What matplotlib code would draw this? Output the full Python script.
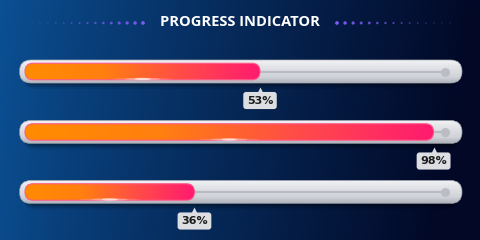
import numpy as np
import matplotlib.pyplot as plt
from matplotlib.patches import FancyBboxPatch, Ellipse
from matplotlib.colors import LinearSegmentedColormap

# donnees
valeurs = [53, 98, 36]
etiquettes = ['53%', '98%', '36%']
titre = 'PROGRESS INDICATOR'

W, H = 480, 240
px = 3.857          # pixels par point de pourcentage
x0 = 55.6           # pixel du 0%
lignes = [71.5, 132, 192]   # centre vertical de chaque barre (px)

fig = plt.figure(figsize=(4.8, 2.4), dpi=100)

# fond degrade
fond = fig.add_axes([0, 0, 1, 1])
fond.axis('off')
gx = np.linspace(0, 1, 300)
gy = np.linspace(0, 1, 150)
c0 = np.array([11, 80, 148]) / 255
c1 = np.array([2, 8, 38]) / 255
t = np.clip(gx[None, :] ** 0.9 + 0.08 * gy[:, None], 0, 1)
img = c0 * (1 - t[..., None]) + c1 * t[..., None]
fond.imshow(img, extent=(0, W, H, 0), aspect='auto')
fond.set_xlim(0, W)
fond.set_ylim(H, 0)

# titre et points decoratifs
fond.text(240, 22, titre, ha='center', va='center', fontsize=10.5,
          fontweight='bold', color='white', family='Open Sans')
n = 15
k = np.linspace(0, 1, n)
xs_g = np.linspace(32, 143, n)
xs_d = np.linspace(337, 450, n)
for xs, kk in ((xs_g, k), (xs_d, k[::-1])):
    fond.scatter(xs, np.full(n, 23), s=1 + 6 * kk ** 2, color='#7c5cf5',
                 alpha=0.25 + 0.75 * kk, linewidths=0)

# axe des donnees
ax = fig.add_axes([0, 0, 1, 1])
ax.patch.set_alpha(0)
ax.axis('off')

debut_piste = (19.5 - x0) / px
fin_piste = (462 - x0) / px
debut_barre = (25 - x0) / px
pos_point = (445 - x0) / px

cm_piste = LinearSegmentedColormap.from_list('piste', ['#f2f3f5', '#e4e6ea', '#dadce1', '#cfd2d7', '#b0b4bc'])
cm_barre = LinearSegmentedColormap.from_list('barre', ['#ff8c00', '#ff7f10', '#ff4c48', '#ff1a70'])

for v, lab, yc in zip(valeurs, etiquettes, lignes):
    h = 23
    r = (h / 2 - 0.1) / px
    # ombre
    for d, a in ((2, 0.18), (4, 0.14), (6, 0.08)):
        ombre = FancyBboxPatch((debut_piste + 1, yc - h / 2 + d), fin_piste - debut_piste - 2, h,
                               boxstyle=f'round,pad=0,rounding_size={r}', mutation_aspect=px,
                               fc='black', ec='none', alpha=a, zorder=1)
        ax.add_patch(ombre)
    # piste
    piste = FancyBboxPatch((debut_piste, yc - h / 2), fin_piste - debut_piste, h,
                           boxstyle=f'round,pad=0,rounding_size={r}', mutation_aspect=px,
                           fc='none', ec='#a5a9b2', lw=0.5, zorder=3)
    ax.add_patch(piste)
    grad = np.linspace(0, 1, 64)[:, None]
    im = ax.imshow(grad, cmap=cm_piste, extent=(debut_piste, fin_piste, yc + h / 2, yc - h / 2),
                   aspect='auto', origin='upper', zorder=2)
    im.set_clip_path(piste)
    # rainure et point
    ax.plot([v, pos_point], [yc, yc], color='#b8bbc2', lw=1.6, solid_capstyle='round', zorder=4)
    ax.plot(pos_point, yc, 'o', ms=6.5, color='#babdc4', mec='none', zorder=4)
    # barre de progression
    hb = 16.5
    rb = (hb / 2 - 0.1) / px
    barre = FancyBboxPatch((debut_barre, yc - hb / 2), v - debut_barre, hb,
                           boxstyle=f'round,pad=0,rounding_size={rb}', mutation_aspect=px,
                           fc='none', ec='#ff5a8a', lw=0.8, zorder=6)
    ax.add_patch(barre)
    gb = np.linspace(0, 1, 256)[None, :]
    imb = ax.imshow(gb, cmap=cm_barre, extent=(debut_barre, v, yc + hb / 2, yc - hb / 2),
                    aspect='auto', zorder=5)
    imb.set_clip_path(barre)
    milieu = (debut_barre + v) / 2
    for wd, a in ((60, 0.15), (36, 0.3), (16, 0.6)):
        ax.add_patch(Ellipse((milieu, yc + 7.5), wd / px, 2.2, fc='white', ec='none',
                             alpha=a, zorder=7))
    # etiquette
    ax.plot(v, yc + 20, marker='^', ms=6.5, color='#dcdee2', mec='none', zorder=8)
    ax.text(v, yc + 29, lab, ha='center', va='center', fontsize=8, fontweight='bold',
            color='#1c1c1c', family='DejaVu Sans', zorder=8,
            bbox=dict(boxstyle='round,pad=0.32,rounding_size=0.25', fc='#dcdee2', ec='none'))

ax.set_xlim(-x0 / px, (W - x0) / px)
ax.set_ylim(H, 0)

plt.savefig('out.png', dpi=100)
